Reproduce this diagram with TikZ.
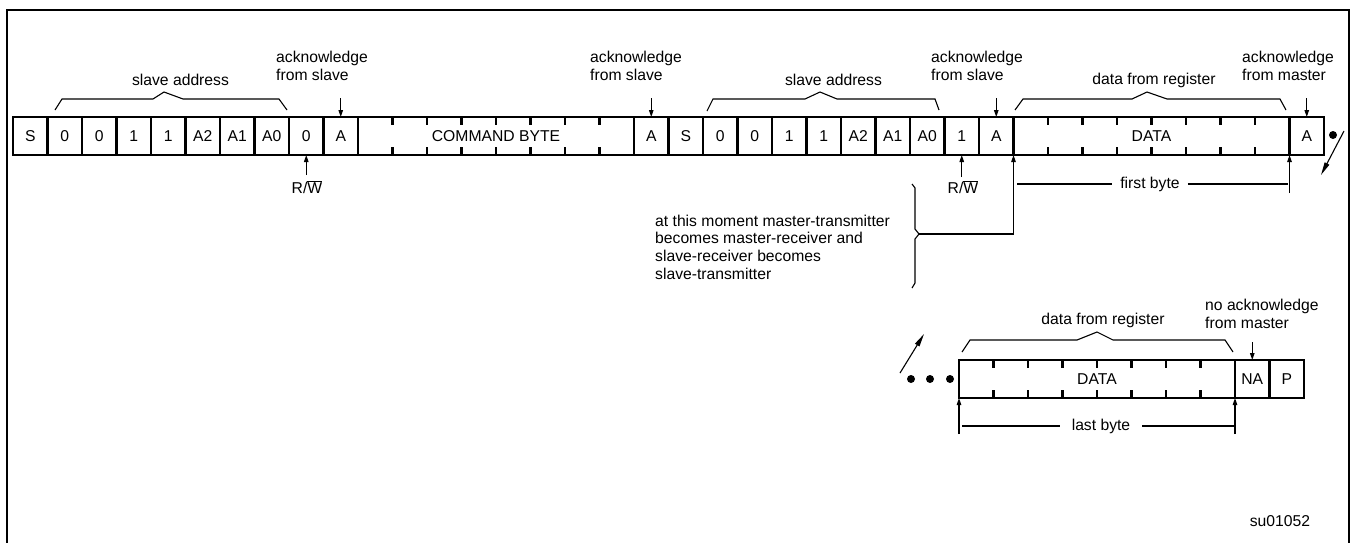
\documentclass[tikz,border=0pt]{standalone}
\usepackage{fontspec}
\setmainfont{Liberation Sans}
\usetikzlibrary{arrows.meta}
\begin{document}
\begin{tikzpicture}[x=1pt,y=-1pt,
  font=\fontsize{15.7}{17.7}\selectfont,
  cell/.style={draw,line width=2.8pt,minimum width=34.5pt,minimum height=38pt,inner sep=0pt,outer sep=0pt,anchor=north west},
  bytebox/.style={cell,minimum width=276pt},
  thin/.style={line width=1.1pt},
  brace/.style={thin,line join=miter},
  arr/.style={thin,-{Triangle[length=7pt,width=4.5pt]}},
  slash/.style={thin,-{Triangle[length=13pt,width=5pt]}},
  tick/.style={line width=2.6pt},
  lbl/.style={inner sep=0pt,align=left,anchor=west},
  gaplbl/.style={inner ysep=0pt,inner xsep=8pt},
  dot/.style={circle,fill,inner sep=0pt,minimum size=8pt},
  frame/.style={line width=2.6pt}
]
\useasboundingbox (0,0) rectangle (1353,542);
\draw[frame] (7,545) -- (7,10) -- (1349,10) -- (1349,545);

% ---------- row 1 ----------
\foreach \t [count=\i from 0] in {S,0,0,1,1,A2,A1,A0,0,A}
  \node[cell] (r\i) at (13+\i*34.5,117) {\t};
\node[bytebox] (cmd) at (358,117) {COMMAND BYTE};
\foreach \t [count=\i from 18] in {A,S,0,0,1,1,A2,A1,A0,1,A}
  \node[cell] (r\i) at (13+\i*34.5,117) {\t};
\node[bytebox] (data1) at (1013.5,117) {DATA};
\node[cell] (r37) at (1289.5,117) {A};

% ---------- row 2 ----------
\node[bytebox] (data2) at (959,360) {DATA};
\node[cell] (na) at (1235,360) {NA};
\node[cell] (p) at (1269.5,360) {P};

% ticks in the byte boxes
\foreach \b in {cmd,data1,data2}
  \foreach \k in {1,...,7} {
    \draw[tick] (\b.north west) ++(\k*34.5,0) -- ++(0,8);
    \draw[tick] (\b.south west) ++(\k*34.5,0) -- ++(0,-8);
  }

% ---------- braces and labels, row 1 ----------
\draw[brace] (55,110) -- (62,99) -- (153,99) -- (164,92) -- (183,99) -- (279,99) -- (287,110);
\node (sa1) at (180.5,80) {slave address};
\draw[brace] (707,111) -- (713,99) -- (805,99) -- (820,92) -- (837,99) -- (935,99) -- (939,110);
\node (sa2) at (833.5,80) {slave address};
\draw[brace] (1015,110) -- (1023,99) -- (1132,99) -- (1147,92) -- (1167,99) -- (1280,99) -- (1286,110);
\node (dr1) at (1154,80) {data from register};

\node[lbl] (ack1) at (276,66) {acknowledge\\from slave};
\draw[arr] (r9.north) ++(0,-19) -- (r9.north);
\node[lbl] (ack2) at (590,66) {acknowledge\\from slave};
\draw[arr] (r18.north) ++(0,-19) -- (r18.north);
\node[lbl] (ack3) at (931,66) {acknowledge\\from slave};
\draw[arr] (r28.north) ++(0,-19) -- (r28.north);
\node[lbl] (ack4) at (1242,66) {acknowledge\\from master};
\draw[arr] (r37.north) ++(0,-19) -- (r37.north);

\draw[arr] (r8.south) ++(0,20) -- (r8.south);
\node (rw1) at (307,187) {R/$\overline{\hbox{W}}$};
\draw[arr] (r27.south) ++(0,22) -- (r27.south);
\node (rw2) at (963,187) {R/$\overline{\hbox{W}}$};

% ---------- note and first byte ----------
\node[lbl] (note) at (655,247) {at this moment master-transmitter\\becomes master-receiver and\\slave-receiver becomes\\slave-transmitter};
\draw[brace] (912,184) -- (915,188) -- (915,229) -- (919,234) -- (915,239) -- (915,283) -- (912,288);
\coordinate (tip) at (919,234);
\draw[arr] (tip) -- (data1.south west |- tip) -- (data1.south west);
\draw[arr] (data1.south east) ++(0,38) -- (data1.south east);
\node[gaplbl] (fb) at (1150,184) {first byte};
\draw[thin] (1017,184) -- (fb.west);
\draw[thin] (fb.east) -- (1288,184);

\node[dot] (d0) at (1333,135) {};
\coordinate (s1a) at (1344,131);
\coordinate (s1b) at (1321,175);
\draw[slash] (s1a) -- (s1b);

% ---------- row 2 labels ----------
\draw[brace] (962,352) -- (970,340) -- (1077,340) -- (1097,332) -- (1113,340) -- (1225,340) -- (1233,352);
\node (dr2) at (1103,320) {data from register};
\node[lbl] (nack) at (1205,314) {no acknowledge\\from master};
\draw[arr] (na.north) ++(0,-18) -- (na.north);

\node[dot] (d1) at (911,379) {};
\node[dot] (d2) at (930,379) {};
\node[dot] (d3) at (950,379) {};
\coordinate (s2a) at (900,373);
\coordinate (s2b) at (924,334);
\draw[slash] (s2a) -- (s2b);

\draw[arr] (data2.south west) ++(0,36) -- (data2.south west);
\draw[arr] (data2.south east) ++(0,36) -- (data2.south east);
\node[gaplbl,inner xsep=12pt] (lb) at (1101,426) {last byte};
\draw[thin] (962,426) -- (lb.west);
\draw[thin] (lb.east) -- (1235,426);

\node (id) at (1280,521) {su01052};
\end{tikzpicture}
\end{document}
